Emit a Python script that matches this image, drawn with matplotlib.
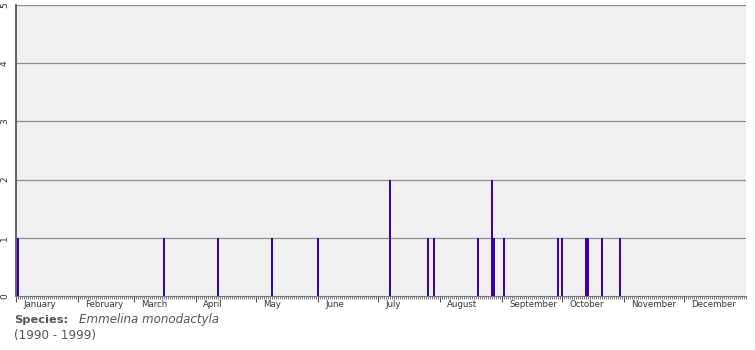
import numpy as np
import matplotlib
matplotlib.use('Agg')
import matplotlib.pyplot as plt
from matplotlib.transforms import blended_transform_factory

# day of year of each record, and number of records that day
days = [1, 74, 101, 128, 151, 187, 206, 209, 231, 238, 239, 244,
        271, 273, 285, 286, 293, 302]
counts = [1, 1, 1, 1, 1, 2, 1, 1, 1, 2, 1, 1,
          1, 1, 1, 1, 1, 1]

months = ["January", "February", "March", "April", "May", "June", "July",
          "August", "September", "October", "November", "December"]
month_len = [31, 28, 31, 30, 31, 30, 31, 31, 30, 31, 30, 31]
month_start = np.concatenate([[0], np.cumsum(month_len)[:-1]])

species = "Emmelina monodactyla"
years = "(1990 - 1999)"

fig = plt.figure(figsize=(7.55, 3.5), dpi=100)
ax = fig.add_axes([16/755, 54/350, 730/755, 291/350])
ax.set_facecolor('#f0f0f0')

ax.bar(days, counts, width=0.55, color='#3c00a8', linewidth=0,
       antialiased=False, zorder=3)

ax.set_xlim(0, 365)
ax.set_ylim(0, 5)

# grid
for y in range(1, 6):
    ax.axhline(y, color='#8c8c8c', lw=0.9, zorder=1)

for s in ['top', 'right']:
    ax.spines[s].set_visible(False)
ax.spines['left'].set_color('#555555')
ax.spines['left'].set_linewidth(1.3)
ax.spines['bottom'].set_color('#777777')
ax.spines['bottom'].set_linewidth(0.8)

ax.set_yticks(range(6))
ax.set_yticklabels([str(i) for i in range(6)], rotation=90, va='center',
                   fontsize=6.5, color='#333333')
ax.tick_params(axis='y', length=0, pad=5)

ax.set_xticks(month_start)
ax.set_xticklabels([])
ax.set_xticks(np.arange(0, 366), minor=True)
ax.tick_params(axis='x', which='major', length=4, width=0.8, color='#555555')
ax.tick_params(axis='x', which='minor', length=2, width=0.7, color='#777777')

trans = blended_transform_factory(ax.transData, ax.transAxes)
for m, s in zip(months, month_start):
    ax.text(s + 3.5, -0.015, m, transform=trans, ha='left', va='top',
            fontsize=6.2, color='#333333')

fig.text(14/755, 1 - 320/350, "Species:", fontsize=8.2, fontweight='bold',
         color='#555555', va='center', ha='left')
fig.text(79/755, 1 - 320/350, species, fontsize=8.6, style='italic',
         color='#555555', va='center', ha='left')
fig.text(14/755, 1 - 335/350, years, fontsize=8.6,
         color='#555555', va='center', ha='left')

fig.savefig('out.png', dpi=100)
